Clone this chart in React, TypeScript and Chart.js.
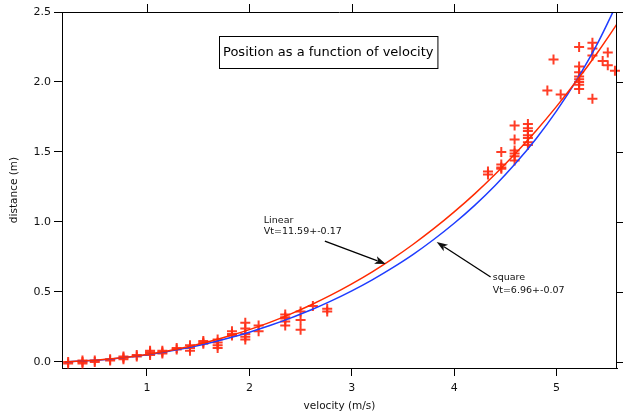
import React, { useEffect, useRef } from "react";
import { Chart, registerables } from "chart.js";

Chart.register(...registerables);

// ---- data ----
const curveVelocity = [0.2, 0.4, 0.6, 0.8, 1.0, 1.2, 1.4, 1.6, 1.8, 2.0, 2.2, 2.4, 2.6, 2.8, 3.0, 3.2, 3.4, 3.6, 3.8, 4.0, 4.2, 4.4, 4.6, 4.8, 5.0, 5.2, 5.4, 5.6];
const linearFit = [0.002, 0.008, 0.019, 0.034, 0.054, 0.079, 0.109, 0.144, 0.185, 0.231, 0.283, 0.342, 0.407, 0.479, 0.558, 0.644, 0.738, 0.841, 0.952, 1.072, 1.201, 1.341, 1.491, 1.652, 1.826, 2.012, 2.211, 2.425];
const squareFit = [0.002, 0.008, 0.018, 0.033, 0.052, 0.075, 0.102, 0.134, 0.171, 0.213, 0.26, 0.313, 0.371, 0.436, 0.508, 0.587, 0.674, 0.769, 0.875, 0.991, 1.119, 1.261, 1.419, 1.595, 1.794, 2.019, 2.276, 2.576];

const measuredVelocity = [
  0.23, 0.23,
  0.37, 0.37, 0.37,
  0.49, 0.49,
  0.64, 0.64,
  0.77, 0.77, 0.77,
  0.9, 0.9,
  1.03, 1.03, 1.03, 1.03,
  1.15, 1.15, 1.15,
  1.29, 1.29,
  1.42, 1.42, 1.42,
  1.55, 1.55, 1.55,
  1.69, 1.69, 1.69, 1.69,
  1.83, 1.83, 1.83,
  1.96, 1.96, 1.96, 1.96, 1.96,
  2.09, 2.09,
  2.35, 2.35, 2.35, 2.35, 2.35,
  2.5, 2.5, 2.5,
  2.62,
  2.76, 2.76,
  4.33, 4.33,
  4.46, 4.46, 4.46, 4.46,
  4.59, 4.59, 4.59, 4.59, 4.59, 4.59,
  4.72, 4.72, 4.72, 4.72, 4.72, 4.72, 4.72,
  4.91, 4.97, 5.04,
  5.22, 5.22, 5.22, 5.22, 5.22, 5.22, 5.22, 5.22,
  5.35, 5.35, 5.35, 5.35,
  5.45, 5.5, 5.5, 5.57,
];
const measuredDistance = [
  0.0, -0.01,
  0.0, 0.01, -0.01,
  0.01, 0.0,
  0.02, 0.01,
  0.03, 0.02, 0.04,
  0.04, 0.05,
  0.06, 0.08, 0.07, 0.05,
  0.06, 0.07, 0.08,
  0.09, 0.1,
  0.1, 0.12, 0.08,
  0.13, 0.14, 0.15,
  0.16, 0.12, 0.1, 0.14,
  0.22, 0.19, 0.2,
  0.28, 0.24, 0.18, 0.16, 0.2,
  0.26, 0.22,
  0.34, 0.31, 0.29, 0.26, 0.32,
  0.36, 0.3, 0.23,
  0.4,
  0.36, 0.38,
  1.36, 1.34,
  1.5, 1.41, 1.38, 1.39,
  1.69, 1.59, 1.51, 1.49, 1.47, 1.44,
  1.7, 1.67, 1.65, 1.62, 1.6, 1.57, 1.55,
  1.94, 2.16, 1.91,
  2.25, 2.11, 2.07, 2.04, 2.02, 2.0, 1.98, 1.95,
  2.28, 2.24, 2.19, 1.88,
  2.15, 2.21, 2.12, 2.08,
];

const xTickValues = [1, 2, 3, 4, 5];
const yTickValues = [0, 0.5, 1.0, 1.5, 2.0, 2.5];
const xAxisTitle = "velocity (m/s)";
const yAxisTitle = "distance (m)";
const boxTitle = "Position as a function of velocity";
const linearNote = ["Linear", "Vt=11.59+-0.17"];
const squareNote = ["square", "Vt=6.96+-0.07"];

const FONT = "'DejaVu Sans', Verdana, sans-serif";

function drawArrow(ctx: CanvasRenderingContext2D, x1: number, y1: number, x2: number, y2: number) {
  const ang = Math.atan2(y2 - y1, x2 - x1);
  const len = 11;
  const wid = 4;
  ctx.beginPath();
  ctx.moveTo(x1, y1);
  ctx.lineTo(x2 - Math.cos(ang) * len * 0.8, y2 - Math.sin(ang) * len * 0.8);
  ctx.stroke();
  ctx.beginPath();
  ctx.moveTo(x2, y2);
  ctx.lineTo(x2 - Math.cos(ang) * len + Math.sin(ang) * wid, y2 - Math.sin(ang) * len - Math.cos(ang) * wid);
  ctx.lineTo(x2 - Math.cos(ang) * len * 0.75, y2 - Math.sin(ang) * len * 0.75);
  ctx.lineTo(x2 - Math.cos(ang) * len - Math.sin(ang) * wid, y2 - Math.sin(ang) * len + Math.cos(ang) * wid);
  ctx.closePath();
  ctx.fill();
}

const overlayPlugin = {
  id: "overlay",
  afterDraw(chart: any) {
    const { ctx, chartArea: a, scales } = chart;
    const xs = scales.x;
    const ys = scales.y;
    ctx.save();
    ctx.strokeStyle = "#000";
    ctx.fillStyle = "#000";
    ctx.lineWidth = 1;
    // top and right frame with outward ticks
    ctx.beginPath();
    ctx.moveTo(a.left, a.top + 0.5);
    ctx.lineTo(a.right, a.top + 0.5);
    ctx.moveTo(a.right - 0.5, a.top);
    ctx.lineTo(a.right - 0.5, a.bottom);
    for (const v of xTickValues) {
      const px = Math.round(xs.getPixelForValue(v)) + 0.5;
      ctx.moveTo(px, a.top);
      ctx.lineTo(px, a.top - 8);
    }
    for (const v of yTickValues) {
      const py = Math.round(ys.getPixelForValue(v)) + 0.5;
      ctx.moveTo(a.right, py);
      ctx.lineTo(a.right + 6, py);
    }
    ctx.stroke();

    // boxed title inside plot
    ctx.font = `13px ${FONT}`;
    const tw = ctx.measureText(boxTitle).width;
    const cx = xs.getPixelForValue(2.77);
    const cy = ys.getPixelForValue(2.214);
    const bw = tw + 8;
    const bh = 32;
    const bx = Math.round(cx - bw / 2) + 0.5;
    const by = Math.round(cy - bh / 2) + 0.5;
    ctx.fillStyle = "#fff";
    ctx.fillRect(bx, by, bw, bh);
    ctx.strokeRect(bx, by, bw, bh);
    ctx.fillStyle = "#000";
    ctx.textAlign = "center";
    ctx.textBaseline = "middle";
    ctx.fillText(boxTitle, cx, cy + 1);

    // notes
    ctx.font = `9.5px ${FONT}`;
    ctx.textAlign = "left";
    ctx.fillStyle = "#111";
    const lx = xs.getPixelForValue(2.141);
    const ly = ys.getPixelForValue(1.011);
    linearNote.forEach((t, i) => ctx.fillText(t, lx, ly + i * 11.5));
    const sx = xs.getPixelForValue(4.376);
    const sy = ys.getPixelForValue(0.6);
    squareNote.forEach((t, i) => ctx.fillText(t, sx, sy + i * 12.5));

    ctx.lineWidth = 1.3;
    drawArrow(ctx, xs.getPixelForValue(2.737), ys.getPixelForValue(0.864), xs.getPixelForValue(3.332), ys.getPixelForValue(0.7));
    drawArrow(ctx, xs.getPixelForValue(4.356), ys.getPixelForValue(0.607), xs.getPixelForValue(3.829), ys.getPixelForValue(0.857));
    ctx.restore();
  },
};

export default function App() {
  const ref = useRef<HTMLCanvasElement>(null);
  useEffect(() => {
    if (!ref.current) return;
    const chart = new Chart(ref.current, {
      type: "scatter",
      data: {
        datasets: [
          {
            label: "linear",
            data: curveVelocity.map((v, i) => ({ x: v, y: linearFit[i] })),
            showLine: true,
            borderColor: "#ff2a00",
            borderWidth: 1.5,
            pointRadius: 0,
            cubicInterpolationMode: "monotone",
          },
          {
            label: "square",
            data: curveVelocity.map((v, i) => ({ x: v, y: squareFit[i] })),
            showLine: true,
            borderColor: "#1e3cff",
            borderWidth: 1.5,
            pointRadius: 0,
            cubicInterpolationMode: "monotone",
          },
          {
            label: "measured",
            data: measuredVelocity.map((v, i) => ({ x: v, y: measuredDistance[i] })),
            pointStyle: "cross",
            pointRadius: 5,
            borderWidth: 2,
            borderColor: "rgba(255,45,20,0.92)",
            backgroundColor: "rgba(255,45,20,0.92)",
            clip: false,
          } as any,
        ],
      },
      options: {
        animation: false,
        responsive: false,
        devicePixelRatio: 1,
        layout: { padding: { top: 12, right: 6, left: 0, bottom: 0 } },
        plugins: { legend: { display: false }, tooltip: { enabled: false } },
        scales: {
          x: {
            type: "linear",
            min: 0.17,
            max: 5.59,
            afterBuildTicks: (s: any) => {
              s.ticks = xTickValues.map((value) => ({ value }));
            },
            afterFit: (s: any) => {
              s.height = 46;
            },
            grid: { drawOnChartArea: false, drawTicks: true, tickLength: 8, color: "#000" },
            border: { display: true, color: "#000", width: 1 },
            ticks: { font: { family: FONT, size: 11 }, color: "#111", padding: 6, maxRotation: 0 },
            title: { display: true, text: xAxisTitle, font: { family: FONT, size: 10.5 }, color: "#111", padding: { top: 0, bottom: 1 } },
          },
          y: {
            type: "linear",
            min: -0.043,
            max: 2.5,
            afterBuildTicks: (s: any) => {
              s.ticks = yTickValues.map((value) => ({ value }));
            },
            afterFit: (s: any) => {
              s.width = 62;
            },
            grid: { drawOnChartArea: false, drawTicks: true, tickLength: 8, color: "#000" },
            border: { display: true, color: "#000", width: 1 },
            ticks: { font: { family: FONT, size: 11 }, color: "#111", padding: 3, callback: (v: any) => Number(v).toFixed(1) },
            title: { display: true, text: yAxisTitle, font: { family: FONT, size: 10.5 }, color: "#111", padding: { top: 8, bottom: 0 } },
          },
        },
      },
      plugins: [overlayPlugin],
    });
    return () => chart.destroy();
  }, []);
  return (
    <div style={{ position: "absolute", left: 0, top: 0, width: 624, height: 414, background: "#fff" }}>
      <canvas ref={ref} width={624} height={414} style={{ display: "block" }} />
    </div>
  );
}
